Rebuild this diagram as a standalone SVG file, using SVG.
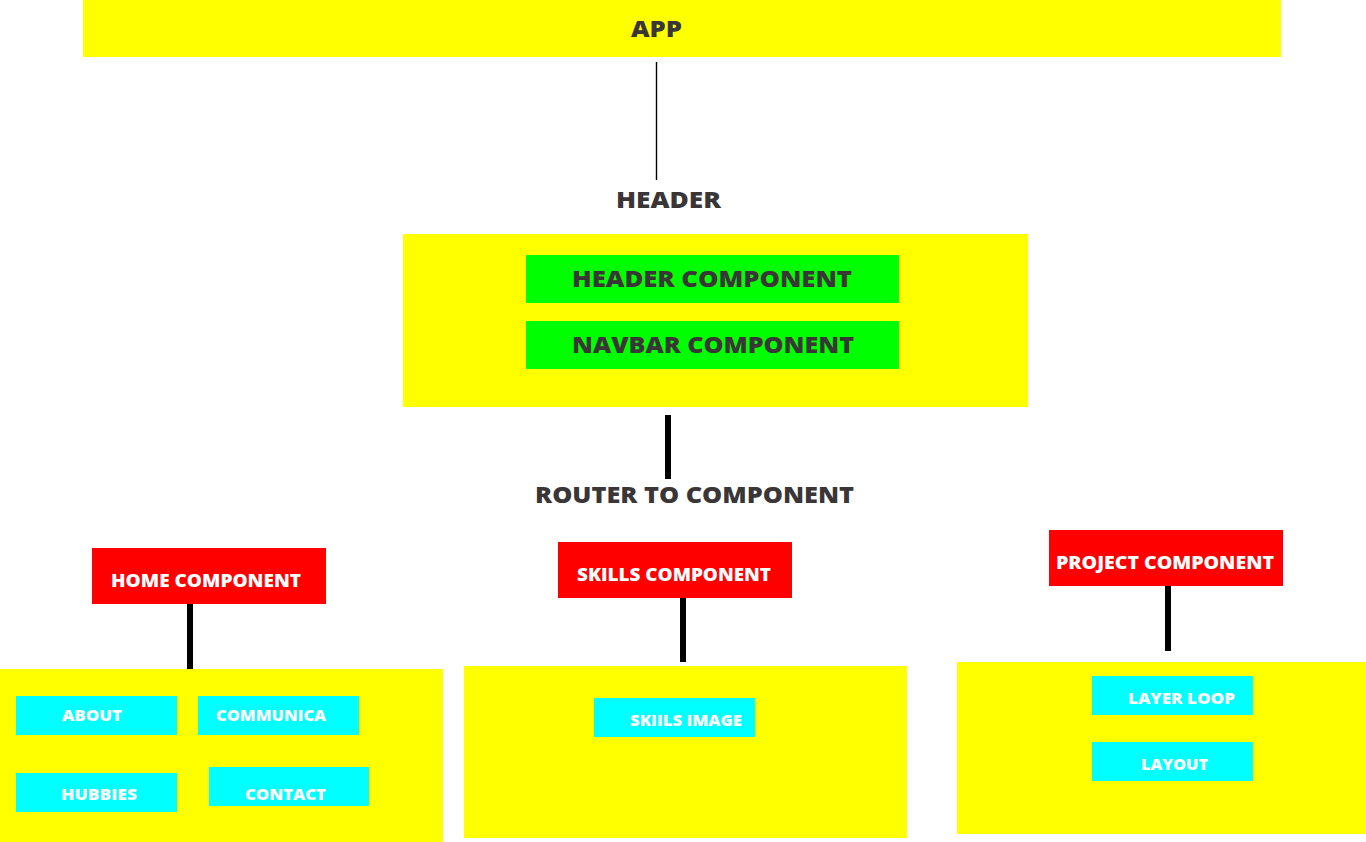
<svg xmlns="http://www.w3.org/2000/svg" width="1366" height="842" viewBox="0 0 1366 842">
<style>
.y{fill:#ffff00}
.g{fill:#00ff00}
.r{fill:#ff0000}
.c{fill:#00ffff}
text{font-family:"Open Sans","Liberation Sans",sans-serif;font-weight:800;text-anchor:middle}
.dk{fill:#3a3536}
.wh{fill:#ffffff}
.thin{stroke:#000;stroke-width:1.4}
.thick{stroke:#000;stroke-width:6}
</style>
<rect width="1366" height="842" fill="#fff"/>
<g id="connectors">
<line class="thin" x1="656.5" y1="62" x2="656.5" y2="180"/>
<line class="thick" x1="668" y1="415" x2="668" y2="479"/>
<line class="thick" x1="190" y1="604" x2="190" y2="669"/>
<line class="thick" x1="683" y1="598" x2="683" y2="662"/>
<line class="thick" x1="1168" y1="586" x2="1168" y2="651"/>
</g>
<g id="app">
<rect class="y" x="83" y="0" width="1198" height="57"/>
<text class="dk" x="656.5" y="37" font-size="23" textLength="51" lengthAdjust="spacingAndGlyphs">APP</text>
</g>
<g id="header-label">
<text class="dk" x="668.5" y="208" font-size="22" textLength="105" lengthAdjust="spacingAndGlyphs">HEADER</text>
</g>
<g id="header">
<rect class="y" x="403" y="234" width="625" height="173"/>
</g>
<g id="header-component">
<rect class="g" x="526" y="255" width="373" height="48"/>
<text class="dk" x="712" y="287" font-size="23" textLength="280" lengthAdjust="spacingAndGlyphs">HEADER COMPONENT</text>
</g>
<g id="navbar-component">
<rect class="g" x="526" y="321" width="373" height="48"/>
<text class="dk" x="713" y="353" font-size="23" textLength="282" lengthAdjust="spacingAndGlyphs">NAVBAR COMPONENT</text>
</g>
<g id="router-label">
<text class="dk" x="694.5" y="503" font-size="22" textLength="319" lengthAdjust="spacingAndGlyphs">ROUTER TO COMPONENT</text>
</g>
<g id="home-component">
<rect class="r" x="92" y="548" width="234" height="56"/>
<text class="wh" x="206" y="587" font-size="17.5" textLength="190" lengthAdjust="spacingAndGlyphs">HOME COMPONENT</text>
</g>
<g id="home-box">
<rect class="y" x="0" y="669" width="443" height="173"/>
</g>
<g id="about">
<rect class="c" x="16" y="696" width="161" height="39"/>
<text class="wh" x="92" y="721" font-size="16" textLength="60" lengthAdjust="spacingAndGlyphs">ABOUT</text>
</g>
<g id="communica">
<rect class="c" x="198" y="696" width="161" height="39"/>
<text class="wh" x="271" y="721" font-size="16" textLength="110" lengthAdjust="spacingAndGlyphs">COMMUNICA</text>
</g>
<g id="hubbies">
<rect class="c" x="16" y="773" width="161" height="39"/>
<text class="wh" x="99" y="800" font-size="16" textLength="76" lengthAdjust="spacingAndGlyphs">HUBBIES</text>
</g>
<g id="contact">
<rect class="c" x="209" y="767" width="160" height="39"/>
<text class="wh" x="285.5" y="800" font-size="16" textLength="81" lengthAdjust="spacingAndGlyphs">CONTACT</text>
</g>
<g id="skills-component">
<rect class="r" x="558" y="542" width="234" height="56"/>
<text class="wh" x="674" y="581" font-size="17.5" textLength="194" lengthAdjust="spacingAndGlyphs">SKILLS COMPONENT</text>
</g>
<g id="skills-box">
<rect class="y" x="464" y="666" width="443" height="172"/>
</g>
<g id="skills-image">
<rect class="c" x="594" y="698" width="161" height="39"/>
<text class="wh" x="686" y="726" font-size="16" textLength="112" lengthAdjust="spacingAndGlyphs">SKIILS IMAGE</text>
</g>
<g id="project-component">
<rect class="r" x="1049" y="530" width="234" height="56"/>
<text class="wh" x="1165" y="569" font-size="17.5" textLength="218" lengthAdjust="spacingAndGlyphs">PROJECT COMPONENT</text>
</g>
<g id="project-box">
<rect class="y" x="957" y="662" width="409" height="172"/>
</g>
<g id="layer-loop">
<rect class="c" x="1092" y="676" width="161" height="39"/>
<text class="wh" x="1181.5" y="704" font-size="16" textLength="107" lengthAdjust="spacingAndGlyphs">LAYER LOOP</text>
</g>
<g id="layout">
<rect class="c" x="1092" y="742" width="161" height="39"/>
<text class="wh" x="1174.5" y="770" font-size="16" textLength="67" lengthAdjust="spacingAndGlyphs">LAYOUT</text>
</g>
</svg>
